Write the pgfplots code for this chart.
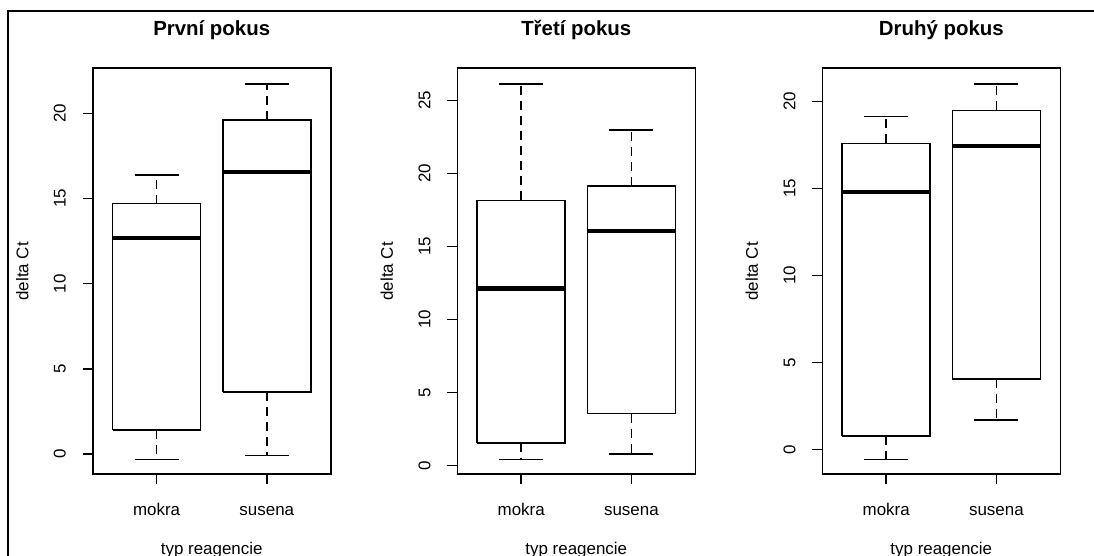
\documentclass[border=0pt]{standalone}
\usepackage{fontspec}
\setmainfont{Liberation Sans}
\usepackage{pgfplots}
\pgfplotsset{compat=1.18}

\newcommand\rboxA[5]{% lw q1 med q3 uw at position 1
  \addplot[boxline] coordinates {(0.6,#2) (1.4,#2) (1.4,#4) (0.6,#4) (0.6,#2)};
  \addplot[medline] coordinates {(0.6,#3) (1.4,#3)};
  \addplot[whisk] coordinates {(1,#4) (1,#5)};
  \addplot[whisk] coordinates {(1,#2) (1,#1)};
  \addplot[boxline] coordinates {(0.8,#5) (1.2,#5)};
  \addplot[boxline] coordinates {(0.8,#1) (1.2,#1)};
}
\newcommand\rboxB[5]{% lw q1 med q3 uw at position 2
  \addplot[boxline] coordinates {(1.6,#2) (2.4,#2) (2.4,#4) (1.6,#4) (1.6,#2)};
  \addplot[medline] coordinates {(1.6,#3) (2.4,#3)};
  \addplot[whisk] coordinates {(2,#4) (2,#5)};
  \addplot[whisk] coordinates {(2,#2) (2,#1)};
  \addplot[boxline] coordinates {(1.8,#5) (2.2,#5)};
  \addplot[boxline] coordinates {(1.8,#1) (2.2,#1)};
}

\pgfplotsset{
  boxline/.style={black, line width=1.6bp, mark=none, line join=miter, solid},
  medline/.style={black, line width=4.5bp, mark=none, line cap=butt},
  whisk/.style={black, line width=1.6bp, mark=none, dash pattern=on 9bp off 6bp},
  rpanel/.style={
    anchor=south west, scale only axis,
    width=238bp, height=406bp,
    xmin=0.42, xmax=2.58,
    xtick={1,2}, xticklabels={mokra,susena},
    tick pos=left, tick align=outside,
    major tick length=10bp,
    every tick/.style={black, line width=1.6bp},
    axis line style={line width=1.6bp},
    /pgf/number format/assume math mode=true,
    tick label style={font=\fontsize{17}{20}\selectfont},
    yticklabel style={rotate=90, anchor=base, inner sep=0pt},
    xticklabel style={anchor=base, inner sep=0pt},
    yticklabel shift=17bp,
    xticklabel shift=31bp,
    title style={font=\bfseries\fontsize{20.5}{24}\selectfont, at={(axis description cs:0.5,1)}, anchor=base, yshift=27bp},
    label style={font=\fontsize{17}{20}\selectfont},
    xlabel={typ reagencie},
    ylabel={delta Ct},
    xlabel style={at={(axis description cs:0.5,0)}, anchor=base, yshift=-80bp},
    ylabel style={at={(axis description cs:-0.2706,0.5)}, anchor=base},
    clip=false,
  }
}

\begin{document}
\begin{tikzpicture}
\useasboundingbox (0,0) rectangle (1094bp,556bp);
\draw[line width=2bp] (7.5bp,0) -- (7.5bp,544.5bp) -- (1094bp,544.5bp);

\begin{axis}[rpanel, at={(92.7bp,81.7bp)}, title={První pokus},
  ymin=-1.2, ymax=22.65, ytick={0,5,10,15,20}]
\rboxA{-0.34}{1.41}{12.68}{14.70}{16.37}
\rboxB{-0.10}{3.62}{16.55}{19.62}{21.74}
\end{axis}

\begin{axis}[rpanel, at={(457.3bp,81.7bp)}, title={Třetí pokus},
  ymin=-0.6, ymax=27.2, ytick={0,5,10,15,20,25}]
\rboxA{0.41}{1.55}{12.12}{18.15}{26.12}
\rboxB{0.77}{3.56}{16.05}{19.16}{22.99}
\end{axis}

\begin{axis}[rpanel, at={(822.3bp,81.7bp)}, title={Druhý pokus},
  ymin=-1.42, ymax=21.9, ytick={0,5,10,15,20}]
\rboxA{-0.57}{0.79}{14.79}{17.59}{19.12}
\rboxB{1.71}{4.06}{17.43}{19.48}{21.00}
\end{axis}
\end{tikzpicture}
\end{document}
